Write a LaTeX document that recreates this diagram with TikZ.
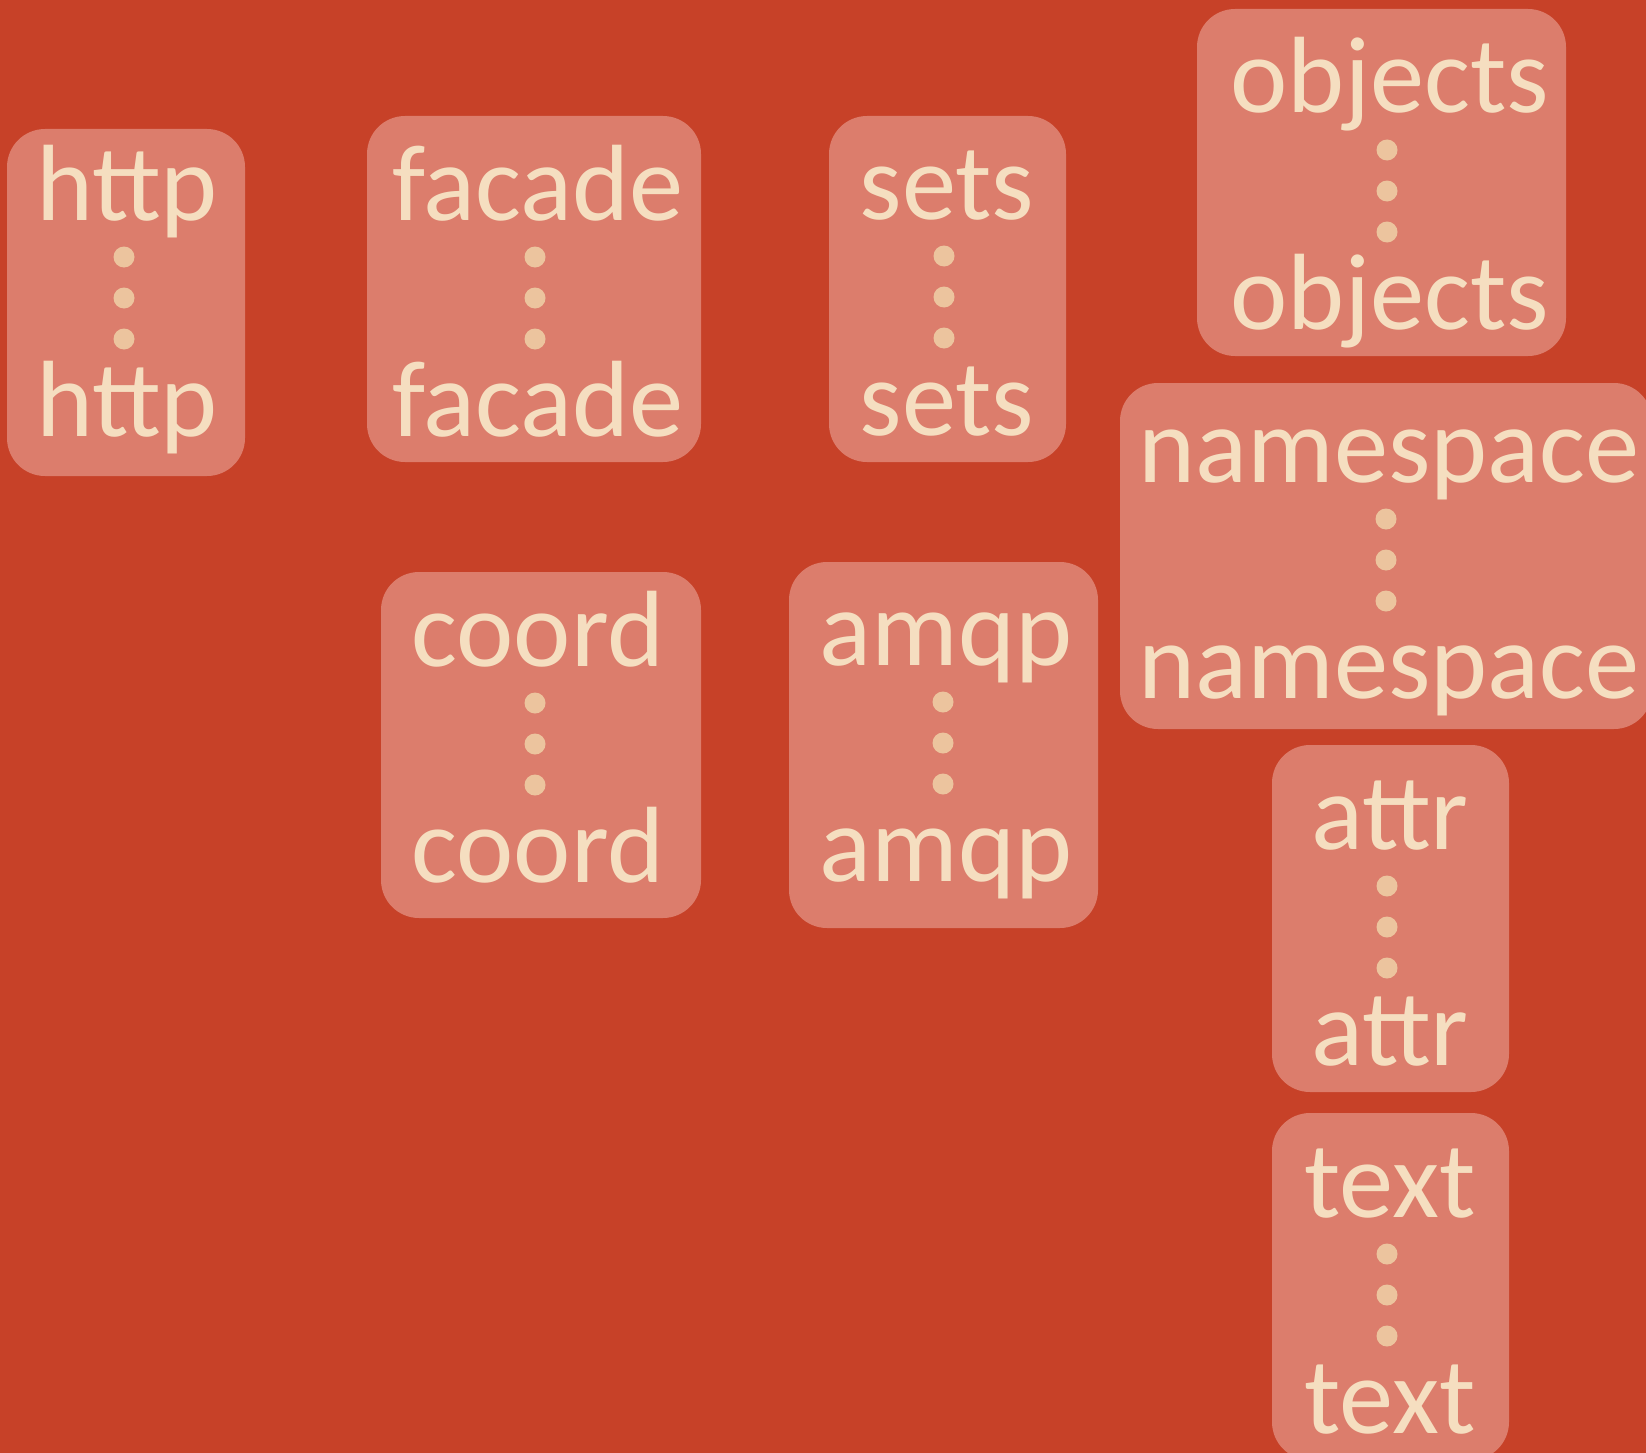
\documentclass[tikz,border=0pt]{standalone}
\usepackage{fontspec}
\setmainfont{Carlito}
\usetikzlibrary{fit}

\definecolor{paper}{RGB}{199,65,40}
\definecolor{tile}{RGB}{220,125,108}
\definecolor{ink}{RGB}{245,222,192}
\definecolor{dotc}{RGB}{236,196,158}

\tikzset{
  tilebox/.style={fill=tile, draw=none, rounded corners=38pt, inner sep=0pt},
  word/.style={text=ink, inner sep=0pt, anchor=base,
    font=\fontsize{108.5}{112}\selectfont},
  dotmark/.style={circle, fill=dotc, draw=none, minimum size=21pt, inner sep=0pt}
}

% #1 name, #2-#5 box corners, #6 column x, #7 top baseline, #8 word
\newcommand{\stackbox}[8]{%
  \node[tilebox, fit={(#2,#3) (#4,#5)}] (#1) {};
  \node[word] (#1-top) at (#6+3,#7) {#8};
  \node[dotmark] (#1-d1) at (#6,#7+37) {};
  \node[dotmark] (#1-d2) at (#6,#7+78) {};
  \node[dotmark] (#1-d3) at (#6,#7+119) {};
  \node[word] (#1-bot) at (#6+3,#7+216) {#8};
}

\begin{document}
\begin{tikzpicture}[x=1pt, y=-1pt]
  \useasboundingbox (0,0) rectangle (1646,1453);
  \clip (0,0) rectangle (1646,1453);
  \fill[paper] (0,0) rectangle (1646,1453);

  \stackbox{http}{7}{129}{245}{476}{124}{220}{http}
  \stackbox{facade}{367}{116}{701}{462}{535}{220}{facade}
  \stackbox{sets}{829}{116}{1066}{462}{944}{219}{sets}
  \stackbox{objects}{1197}{9}{1566}{356}{1387}{113}{objects}
  \stackbox{namespace}{1120}{383}{1652}{729}{1386}{482}{namespace}
  \stackbox{coord}{381}{572}{701}{918}{535}{666}{coord}
  \stackbox{amqp}{789}{562}{1098}{928}{943}{665}{amqp}
  \stackbox{attr}{1272}{745}{1509}{1092}{1387}{849}{attr}
  \stackbox{text}{1272}{1113}{1509}{1460}{1387}{1217}{text}
\end{tikzpicture}
\end{document}
